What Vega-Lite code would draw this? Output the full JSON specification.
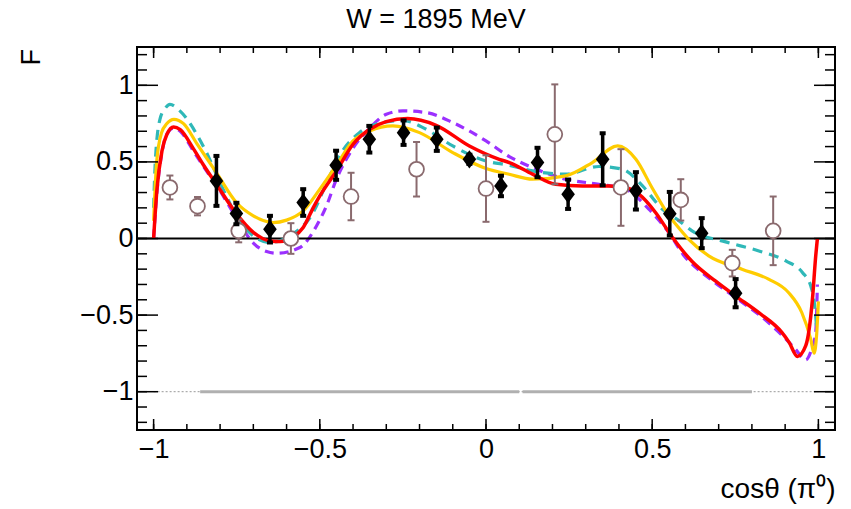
{
  "$schema": "https://vega.github.io/schema/vega-lite/v6.json",
  "width": 698,
  "height": 383,
  "autosize": {"type": "none"},
  "padding": {"left": 137, "top": 47, "right": 16, "bottom": 79},
  "background": "white",
  "config": {
    "font": "Liberation Sans",
    "view": {"stroke": "black", "strokeWidth": 2}
  },
  "title": {"text": "W = 1895 MeV", "fontSize": 27, "fontWeight": "normal", "font": "Liberation Sans", "color": "black", "anchor": "middle", "dx": -50, "offset": 12},
  "datasets": {
    "curves": [
      {"model": "A", "x": -1.0, "y": 0}, {"model": "A", "x": -0.99, "y": 0.32}, {"model": "A", "x": -0.975, "y": 0.57}, {"model": "A", "x": -0.96, "y": 0.68}, {"model": "A", "x": -0.94, "y": 0.728}, {"model": "A", "x": -0.92, "y": 0.71}, {"model": "A", "x": -0.88, "y": 0.585}, {"model": "A", "x": -0.85, "y": 0.48}, {"model": "A", "x": -0.811, "y": 0.354}, {"model": "A", "x": -0.75, "y": 0.159}, {"model": "A", "x": -0.70, "y": 0.04}, {"model": "A", "x": -0.65, "y": -0.016}, {"model": "A", "x": -0.62, "y": -0.02}, {"model": "A", "x": -0.58, "y": 0.01}, {"model": "A", "x": -0.55, "y": 0.072}, {"model": "A", "x": -0.52, "y": 0.2}, {"model": "A", "x": -0.50, "y": 0.278}, {"model": "A", "x": -0.45, "y": 0.441}, {"model": "A", "x": -0.40, "y": 0.615}, {"model": "A", "x": -0.35, "y": 0.713}, {"model": "A", "x": -0.30, "y": 0.763}, {"model": "A", "x": -0.236, "y": 0.783}, {"model": "A", "x": -0.15, "y": 0.739}, {"model": "A", "x": -0.05, "y": 0.604}, {"model": "A", "x": 0.04, "y": 0.517}, {"model": "A", "x": 0.07, "y": 0.496}, {"model": "A", "x": 0.14, "y": 0.42}, {"model": "A", "x": 0.21, "y": 0.354}, {"model": "A", "x": 0.29, "y": 0.343}, {"model": "A", "x": 0.37, "y": 0.343}, {"model": "A", "x": 0.42, "y": 0.333}, {"model": "A", "x": 0.46, "y": 0.289}, {"model": "A", "x": 0.51, "y": 0.17}, {"model": "A", "x": 0.56, "y": 0.01}, {"model": "A", "x": 0.62, "y": -0.15}, {"model": "A", "x": 0.69, "y": -0.277}, {"model": "A", "x": 0.75, "y": -0.374}, {"model": "A", "x": 0.82, "y": -0.483}, {"model": "A", "x": 0.89, "y": -0.613}, {"model": "A", "x": 0.912, "y": -0.678}, {"model": "A", "x": 0.937, "y": -0.77}, {"model": "A", "x": 0.962, "y": -0.70}, {"model": "A", "x": 0.982, "y": -0.40}, {"model": "A", "x": 0.992, "y": -0.113}, {"model": "A", "x": 0.997, "y": 0},
      {"model": "B", "x": -1.0, "y": 0.115}, {"model": "B", "x": -0.991, "y": 0.496}, {"model": "B", "x": -0.976, "y": 0.691}, {"model": "B", "x": -0.96, "y": 0.75}, {"model": "B", "x": -0.939, "y": 0.778}, {"model": "B", "x": -0.91, "y": 0.75}, {"model": "B", "x": -0.87, "y": 0.62}, {"model": "B", "x": -0.811, "y": 0.43}, {"model": "B", "x": -0.751, "y": 0.235}, {"model": "B", "x": -0.70, "y": 0.148}, {"model": "B", "x": -0.64, "y": 0.104}, {"model": "B", "x": -0.60, "y": 0.12}, {"model": "B", "x": -0.55, "y": 0.18}, {"model": "B", "x": -0.50, "y": 0.322}, {"model": "B", "x": -0.45, "y": 0.478}, {"model": "B", "x": -0.40, "y": 0.637}, {"model": "B", "x": -0.35, "y": 0.702}, {"model": "B", "x": -0.28, "y": 0.735}, {"model": "B", "x": -0.20, "y": 0.691}, {"model": "B", "x": -0.10, "y": 0.561}, {"model": "B", "x": 0.0, "y": 0.457}, {"model": "B", "x": 0.07, "y": 0.419}, {"model": "B", "x": 0.14, "y": 0.387}, {"model": "B", "x": 0.24, "y": 0.409}, {"model": "B", "x": 0.32, "y": 0.496}, {"model": "B", "x": 0.396, "y": 0.604}, {"model": "B", "x": 0.451, "y": 0.517}, {"model": "B", "x": 0.50, "y": 0.33}, {"model": "B", "x": 0.551, "y": 0.148}, {"model": "B", "x": 0.571, "y": 0.093}, {"model": "B", "x": 0.61, "y": -0.005}, {"model": "B", "x": 0.67, "y": -0.113}, {"model": "B", "x": 0.77, "y": -0.2}, {"model": "B", "x": 0.85, "y": -0.265}, {"model": "B", "x": 0.91, "y": -0.352}, {"model": "B", "x": 0.95, "y": -0.483}, {"model": "B", "x": 0.977, "y": -0.657}, {"model": "B", "x": 0.987, "y": -0.748}, {"model": "B", "x": 0.995, "y": -0.62}, {"model": "B", "x": 1.0, "y": -0.41},
      {"model": "C", "x": -1.0, "y": 0.2}, {"model": "C", "x": -0.995, "y": 0.5}, {"model": "C", "x": -0.981, "y": 0.778}, {"model": "C", "x": -0.965, "y": 0.85}, {"model": "C", "x": -0.951, "y": 0.876}, {"model": "C", "x": -0.921, "y": 0.833}, {"model": "C", "x": -0.851, "y": 0.604}, {"model": "C", "x": -0.791, "y": 0.322}, {"model": "C", "x": -0.751, "y": 0.148}, {"model": "C", "x": -0.70, "y": 0.017}, {"model": "C", "x": -0.65, "y": -0.026}, {"model": "C", "x": -0.59, "y": 0.017}, {"model": "C", "x": -0.52, "y": 0.17}, {"model": "C", "x": -0.48, "y": 0.36}, {"model": "C", "x": -0.441, "y": 0.539}, {"model": "C", "x": -0.381, "y": 0.691}, {"model": "C", "x": -0.30, "y": 0.761}, {"model": "C", "x": -0.25, "y": 0.77}, {"model": "C", "x": -0.18, "y": 0.713}, {"model": "C", "x": -0.10, "y": 0.604}, {"model": "C", "x": 0.0, "y": 0.506}, {"model": "C", "x": 0.07, "y": 0.478}, {"model": "C", "x": 0.14, "y": 0.441}, {"model": "C", "x": 0.24, "y": 0.42}, {"model": "C", "x": 0.34, "y": 0.47}, {"model": "C", "x": 0.411, "y": 0.452}, {"model": "C", "x": 0.471, "y": 0.343}, {"model": "C", "x": 0.531, "y": 0.191}, {"model": "C", "x": 0.581, "y": 0.115}, {"model": "C", "x": 0.62, "y": 0.05}, {"model": "C", "x": 0.721, "y": -0.022}, {"model": "C", "x": 0.821, "y": -0.081}, {"model": "C", "x": 0.902, "y": -0.146}, {"model": "C", "x": 0.952, "y": -0.222}, {"model": "C", "x": 0.977, "y": -0.309}, {"model": "C", "x": 0.99, "y": -0.461}, {"model": "C", "x": 0.995, "y": -0.59},
      {"model": "D", "x": -1.0, "y": 0}, {"model": "D", "x": -0.99, "y": 0.3}, {"model": "D", "x": -0.975, "y": 0.56}, {"model": "D", "x": -0.96, "y": 0.68}, {"model": "D", "x": -0.94, "y": 0.72}, {"model": "D", "x": -0.92, "y": 0.70}, {"model": "D", "x": -0.88, "y": 0.57}, {"model": "D", "x": -0.85, "y": 0.47}, {"model": "D", "x": -0.80, "y": 0.31}, {"model": "D", "x": -0.75, "y": 0.13}, {"model": "D", "x": -0.70, "y": -0.03}, {"model": "D", "x": -0.66, "y": -0.085}, {"model": "D", "x": -0.63, "y": -0.096}, {"model": "D", "x": -0.56, "y": -0.059}, {"model": "D", "x": -0.51, "y": 0.082}, {"model": "D", "x": -0.48, "y": 0.213}, {"model": "D", "x": -0.45, "y": 0.387}, {"model": "D", "x": -0.40, "y": 0.59}, {"model": "D", "x": -0.35, "y": 0.72}, {"model": "D", "x": -0.30, "y": 0.811}, {"model": "D", "x": -0.25, "y": 0.833}, {"model": "D", "x": -0.18, "y": 0.822}, {"model": "D", "x": -0.10, "y": 0.757}, {"model": "D", "x": 0.0, "y": 0.637}, {"model": "D", "x": 0.07, "y": 0.535}, {"model": "D", "x": 0.14, "y": 0.463}, {"model": "D", "x": 0.24, "y": 0.387}, {"model": "D", "x": 0.34, "y": 0.354}, {"model": "D", "x": 0.42, "y": 0.322}, {"model": "D", "x": 0.49, "y": 0.191}, {"model": "D", "x": 0.55, "y": 0.039}, {"model": "D", "x": 0.60, "y": -0.124}, {"model": "D", "x": 0.62, "y": -0.167}, {"model": "D", "x": 0.69, "y": -0.29}, {"model": "D", "x": 0.75, "y": -0.385}, {"model": "D", "x": 0.82, "y": -0.495}, {"model": "D", "x": 0.89, "y": -0.63}, {"model": "D", "x": 0.93, "y": -0.72}, {"model": "D", "x": 0.962, "y": -0.792}, {"model": "D", "x": 0.98, "y": -0.72}, {"model": "D", "x": 0.992, "y": -0.613}, {"model": "D", "x": 0.997, "y": -0.3}
    ],
    "diamonds": [
      {"x": -0.811, "y": 0.376, "lo": 0.213, "hi": 0.539},
      {"x": -0.751, "y": 0.163, "lo": 0.093, "hi": 0.233},
      {"x": -0.650, "y": 0.061, "lo": -0.026, "hi": 0.148},
      {"x": -0.550, "y": 0.235, "lo": 0.148, "hi": 0.322},
      {"x": -0.451, "y": 0.478, "lo": 0.383, "hi": 0.573},
      {"x": -0.351, "y": 0.648, "lo": 0.561, "hi": 0.735},
      {"x": -0.248, "y": 0.691, "lo": 0.611, "hi": 0.771},
      {"x": -0.148, "y": 0.648, "lo": 0.572, "hi": 0.724},
      {"x": -0.050, "y": 0.517, "lo": 0.487, "hi": 0.547},
      {"x": 0.045, "y": 0.343, "lo": 0.276, "hi": 0.41},
      {"x": 0.155, "y": 0.496, "lo": 0.4, "hi": 0.592},
      {"x": 0.247, "y": 0.289, "lo": 0.193, "hi": 0.385},
      {"x": 0.351, "y": 0.517, "lo": 0.347, "hi": 0.687},
      {"x": 0.451, "y": 0.311, "lo": 0.189, "hi": 0.433},
      {"x": 0.553, "y": 0.162, "lo": 0.02, "hi": 0.304},
      {"x": 0.649, "y": 0.035, "lo": -0.063, "hi": 0.133},
      {"x": 0.751, "y": -0.357, "lo": -0.449, "hi": -0.265}
    ],
    "circles": [
      {"x": -0.951, "y": 0.333, "lo": 0.255, "hi": 0.411},
      {"x": -0.868, "y": 0.211, "lo": 0.151, "hi": 0.271},
      {"x": -0.744, "y": 0.05, "lo": -0.025, "hi": 0.125},
      {"x": -0.587, "y": 0.0, "lo": -0.1, "hi": 0.1},
      {"x": -0.406, "y": 0.274, "lo": 0.119, "hi": 0.429},
      {"x": -0.209, "y": 0.452, "lo": 0.274, "hi": 0.63},
      {"x": 0.0, "y": 0.326, "lo": 0.109, "hi": 0.543},
      {"x": 0.207, "y": 0.68, "lo": 0.354, "hi": 1.006},
      {"x": 0.406, "y": 0.333, "lo": 0.083, "hi": 0.583},
      {"x": 0.586, "y": 0.252, "lo": 0.117, "hi": 0.387},
      {"x": 0.741, "y": -0.161, "lo": -0.248, "hi": -0.074},
      {"x": 0.864, "y": 0.05, "lo": -0.174, "hi": 0.274}
    ],
    "syst": [
      {"x": -0.86, "x2": 0.10},
      {"x": 0.11, "x2": 0.80}
    ],
    "xmajor": [{"v": -1}, {"v": -0.5}, {"v": 0}, {"v": 0.5}, {"v": 1}],
    "xminor": [{"v": -1}, {"v": -0.9}, {"v": -0.8}, {"v": -0.7}, {"v": -0.6}, {"v": -0.5}, {"v": -0.4}, {"v": -0.3}, {"v": -0.2}, {"v": -0.1}, {"v": 0}, {"v": 0.1}, {"v": 0.2}, {"v": 0.3}, {"v": 0.4}, {"v": 0.5}, {"v": 0.6}, {"v": 0.7}, {"v": 0.8}, {"v": 0.9}, {"v": 1}],
    "ymajor": [{"v": -1}, {"v": -0.5}, {"v": 0}, {"v": 0.5}, {"v": 1}],
    "yminor": [{"v": -1.2}, {"v": -1.1}, {"v": -1}, {"v": -0.9}, {"v": -0.8}, {"v": -0.7}, {"v": -0.6}, {"v": -0.5}, {"v": -0.4}, {"v": -0.3}, {"v": -0.2}, {"v": -0.1}, {"v": 0}, {"v": 0.1}, {"v": 0.2}, {"v": 0.3}, {"v": 0.4}, {"v": 0.5}, {"v": 0.6}, {"v": 0.7}, {"v": 0.8}, {"v": 0.9}, {"v": 1}, {"v": 1.1}, {"v": 1.2}]
  },
  "layer": [
    {
      "data": {"name": "curves"},
      "transform": [{"filter": "datum.model == 'D'"}],
      "mark": {"type": "line", "color": "#9b30ff", "strokeWidth": 3.2, "strokeDash": [9, 6], "interpolate": "monotone"},
      "encoding": {
        "x": {"field": "x", "type": "quantitative", "scale": {"domain": [-1.05, 1.05], "nice": false, "zero": false},
          "axis": {"title": "cosθ (π⁰)", "values": [-1, -0.5, 0, 0.5, 1], "format": "~g", "ticks": false, "domain": false, "grid": false, "labelFontSize": 27, "labelColor": "black", "labelPadding": 6, "labelFlush": false, "labelOverlap": false, "titleFontSize": 28, "titleFontWeight": "normal", "titleColor": "black", "titleAnchor": "end", "titleAlign": "right", "titleBaseline": "alphabetic", "titleX": 698, "titleY": 67}},
        "y": {"field": "y", "type": "quantitative", "scale": {"domain": [-1.25, 1.25], "nice": false, "zero": false},
          "axis": {"title": "F", "values": [-1, -0.5, 0, 0.5, 1], "format": "~g", "ticks": false, "domain": false, "grid": false, "labelFontSize": 27, "labelColor": "black", "labelPadding": 4, "labelFlush": false, "labelOverlap": false, "titleFontSize": 27, "titleFontWeight": "normal", "titleColor": "black", "titleAngle": -90, "titleAlign": "left", "titleBaseline": "alphabetic", "titleX": -98, "titleY": 18}}
      }
    },
    {
      "data": {"values": [{}]},
      "mark": {"type": "rule", "color": "#999999", "strokeWidth": 1, "strokeDash": [2, 2]},
      "encoding": {"x": {"datum": -1}, "x2": {"datum": 1}, "y": {"datum": -1}}
    },
    {
      "data": {"name": "syst"},
      "mark": {"type": "rect", "color": "#b0b0b0", "opacity": 1},
      "encoding": {"x": {"field": "x", "type": "quantitative"}, "x2": {"field": "x2"}, "y": {"datum": -1.01}, "y2": {"datum": -0.99}}
    },
    {
      "data": {"values": [{}]},
      "mark": {"type": "rule", "color": "black", "strokeWidth": 2},
      "encoding": {"y": {"datum": 0}}
    },
    {
      "data": {"name": "curves"},
      "transform": [{"filter": "datum.model == 'C'"}],
      "mark": {"type": "line", "color": "#2fb8b8", "strokeWidth": 3.2, "strokeDash": [10, 7], "interpolate": "monotone"},
      "encoding": {"x": {"field": "x", "type": "quantitative"}, "y": {"field": "y", "type": "quantitative"}}
    },
    {
      "data": {"name": "curves"},
      "transform": [{"filter": "datum.model == 'B'"}],
      "mark": {"type": "line", "color": "#ffcc00", "strokeWidth": 3.2, "interpolate": "monotone"},
      "encoding": {"x": {"field": "x", "type": "quantitative"}, "y": {"field": "y", "type": "quantitative"}}
    },
    {
      "data": {"name": "curves"},
      "transform": [{"filter": "datum.model == 'A'"}],
      "mark": {"type": "line", "color": "#ff0000", "strokeWidth": 3.5, "interpolate": "monotone"},
      "encoding": {"x": {"field": "x", "type": "quantitative"}, "y": {"field": "y", "type": "quantitative"}}
    },
    {
      "data": {"name": "circles"},
      "mark": {"type": "rule", "color": "#8a6a6e", "strokeWidth": 2},
      "encoding": {"x": {"field": "x", "type": "quantitative"}, "y": {"field": "lo", "type": "quantitative"}, "y2": {"field": "hi"}}
    },
    {
      "data": {"name": "circles"},
      "mark": {"type": "tick", "orient": "horizontal", "color": "#8a6a6e", "size": 7, "thickness": 2, "opacity": 1},
      "encoding": {"x": {"field": "x", "type": "quantitative"}, "y": {"field": "lo", "type": "quantitative"}}
    },
    {
      "data": {"name": "circles"},
      "mark": {"type": "tick", "orient": "horizontal", "color": "#8a6a6e", "size": 7, "thickness": 2, "opacity": 1},
      "encoding": {"x": {"field": "x", "type": "quantitative"}, "y": {"field": "hi", "type": "quantitative"}}
    },
    {
      "data": {"name": "circles"},
      "mark": {"type": "point", "shape": "circle", "fill": "white", "stroke": "#8a6a6e", "strokeWidth": 1.8, "size": 220, "opacity": 1, "fillOpacity": 1, "filled": false},
      "encoding": {"x": {"field": "x", "type": "quantitative"}, "y": {"field": "y", "type": "quantitative"}}
    },
    {
      "data": {"name": "diamonds"},
      "mark": {"type": "rule", "color": "black", "strokeWidth": 3.5},
      "encoding": {"x": {"field": "x", "type": "quantitative"}, "y": {"field": "lo", "type": "quantitative"}, "y2": {"field": "hi"}}
    },
    {
      "data": {"name": "diamonds"},
      "mark": {"type": "tick", "orient": "horizontal", "color": "black", "size": 6, "thickness": 4, "opacity": 1},
      "encoding": {"x": {"field": "x", "type": "quantitative"}, "y": {"field": "lo", "type": "quantitative"}}
    },
    {
      "data": {"name": "diamonds"},
      "mark": {"type": "tick", "orient": "horizontal", "color": "black", "size": 6, "thickness": 4, "opacity": 1},
      "encoding": {"x": {"field": "x", "type": "quantitative"}, "y": {"field": "hi", "type": "quantitative"}}
    },
    {
      "data": {"name": "diamonds"},
      "mark": {"type": "point", "shape": "M0,-1L0.75,0L0,1L-0.75,0Z", "filled": true, "color": "black", "size": 330, "opacity": 1},
      "encoding": {"x": {"field": "x", "type": "quantitative"}, "y": {"field": "y", "type": "quantitative"}}
    },
    {
      "data": {"name": "xmajor"},
      "mark": {"type": "rule", "color": "black", "strokeWidth": 1.5, "y2Offset": -11},
      "encoding": {"x": {"field": "v", "type": "quantitative"}, "y": {"datum": -1.25}, "y2": {"datum": -1.25}}
    },
    {
      "data": {"name": "xminor"},
      "mark": {"type": "rule", "color": "black", "strokeWidth": 1.5, "y2Offset": -6},
      "encoding": {"x": {"field": "v", "type": "quantitative"}, "y": {"datum": -1.25}, "y2": {"datum": -1.25}}
    },
    {
      "data": {"name": "xmajor"},
      "mark": {"type": "rule", "color": "black", "strokeWidth": 1.5, "y2Offset": 11},
      "encoding": {"x": {"field": "v", "type": "quantitative"}, "y": {"datum": 1.25}, "y2": {"datum": 1.25}}
    },
    {
      "data": {"name": "xminor"},
      "mark": {"type": "rule", "color": "black", "strokeWidth": 1.5, "y2Offset": 6},
      "encoding": {"x": {"field": "v", "type": "quantitative"}, "y": {"datum": 1.25}, "y2": {"datum": 1.25}}
    },
    {
      "data": {"name": "ymajor"},
      "mark": {"type": "rule", "color": "black", "strokeWidth": 1.5, "x2Offset": 21},
      "encoding": {"y": {"field": "v", "type": "quantitative"}, "x": {"datum": -1.05}, "x2": {"datum": -1.05}}
    },
    {
      "data": {"name": "yminor"},
      "mark": {"type": "rule", "color": "black", "strokeWidth": 1.5, "x2Offset": 10},
      "encoding": {"y": {"field": "v", "type": "quantitative"}, "x": {"datum": -1.05}, "x2": {"datum": -1.05}}
    },
    {
      "data": {"name": "ymajor"},
      "mark": {"type": "rule", "color": "black", "strokeWidth": 1.5, "x2Offset": -21},
      "encoding": {"y": {"field": "v", "type": "quantitative"}, "x": {"datum": 1.05}, "x2": {"datum": 1.05}}
    },
    {
      "data": {"name": "yminor"},
      "mark": {"type": "rule", "color": "black", "strokeWidth": 1.5, "x2Offset": -10},
      "encoding": {"y": {"field": "v", "type": "quantitative"}, "x": {"datum": 1.05}, "x2": {"datum": 1.05}}
    }
  ]
}
